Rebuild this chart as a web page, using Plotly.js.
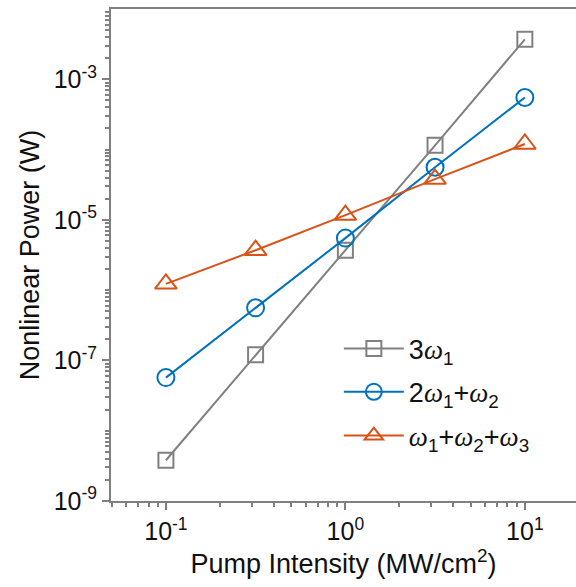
<!DOCTYPE html>
<html><head><meta charset="utf-8">
<script src="https://cdn.plot.ly/plotly-3.0.1.min.js"></script>
<style>body{margin:0;padding:0;background:#fff}#plot{width:576px;height:587px}</style>
</head><body><div id="plot"></div>
<script>
const intensity = [0.1, 0.316, 1, 3.16, 10];
const p3w1 = [3.8e-9, 1.2e-7, 3.7e-6, 1.15e-4, 3.7e-3];
const p2w1w2 = [5.7e-8, 5.6e-7, 5.5e-6, 5.6e-5, 5.5e-4];
const pw1w2w3 = [1.23e-6, 3.7e-6, 1.17e-5, 3.8e-5, 1.2e-4];
const W = '<span style="font-family:\'Liberation Serif\',\'Times New Roman\',serif"><i>ω</i></span>';
const names = ['3' + W + '<sub>1</sub>', '2' + W + '<sub>1</sub>+' + W + '<sub>2</sub>', W + '<sub>1</sub>+' + W + '<sub>2</sub>+' + W + '<sub>3</sub>'];
const xTickVals = [0.1, 1, 10];
const xTickText = ['10<sup>-1</sup>', '10<sup>0</sup>', '10<sup>1</sup>'];
const yTickVals = [1e-9, 1e-7, 1e-5, 1e-3];
const yTickText = ['10<sup>-9</sup>', '10<sup>-7</sup>', '10<sup>-5</sup>', '10<sup>-3</sup>'];

const colors = ['#808080', '#0072BD', '#D95319'];
const symbols = ['square-open', 'circle-open', 'triangle-up-open'];
const sizes = [15, 17, 19];
const series = [p3w1, p2w1w2, pw1w2w3];
const legs = ['legend', 'legend2', 'legend3'];

function minorVals(e0, e1) {
  const v = [];
  for (let e = e0; e <= e1; e++) for (let d = 1; d <= 9; d++) v.push(d * Math.pow(10, e));
  return v;
}

const traces = series.map((s, i) => ({
  x: intensity, y: s, type: 'scatter', mode: 'lines+markers', name: names[i],
  legend: legs[i],
  line: {color: colors[i], width: 2},
  marker: {symbol: symbols[i], size: sizes[i], color: colors[i], line: {width: 2, color: colors[i]}}
}));

const F = 'Arial, "Liberation Sans", sans-serif';
const legBase = {bgcolor: 'rgba(0,0,0,0)', font: {family: F, size: 27, color: '#111'}, xanchor: 'left', yanchor: 'middle', x: 0.49, itemwidth: 60};
const tickFont = {family: F, size: 25, color: '#111'};
const titleFont = {family: F, size: 27, color: '#111'};
const layout = {
  width: 576, height: 587,
  margin: {l: 111, r: 0, t: 9, b: 86},
  paper_bgcolor: '#fff', plot_bgcolor: '#fff',
  showlegend: true,
  legend: Object.assign({}, legBase, {y: 0.309}),
  legend2: Object.assign({}, legBase, {y: 0.221}),
  legend3: Object.assign({}, legBase, {y: 0.132}),
  xaxis: {
    type: 'log', range: [-1.306, 1.285], tickmode: 'array', tickvals: xTickVals, ticktext: xTickText,
    showline: true, linecolor: '#808080', linewidth: 2, mirror: true,
    ticks: 'outside', ticklen: 7, tickwidth: 2, tickcolor: '#808080',
    minor: {ticks: 'outside', ticklen: 4, tickwidth: 2, tickcolor: '#808080', tickmode: 'array', tickvals: minorVals(-2, 1), showgrid: false},
    showgrid: false, zeroline: false, tickfont: tickFont,
    title: {text: 'Pump Intensity (MW/cm<sup>2</sup>)', font: titleFont, standoff: 4}
  },
  yaxis: {
    type: 'log', range: [-9, -2], tickmode: 'array', tickvals: yTickVals, ticktext: yTickText,
    showline: true, linecolor: '#808080', linewidth: 2,
    ticks: 'outside', ticklen: 7, tickwidth: 2, tickcolor: '#808080',
    minor: {ticks: 'outside', ticklen: 4, tickwidth: 2, tickcolor: '#808080', tickmode: 'array', tickvals: minorVals(-9, -3), showgrid: false},
    showgrid: false, zeroline: false, tickfont: tickFont,
    title: {text: 'Nonlinear Power (W)', font: titleFont, standoff: 6}
  }
};
Plotly.newPlot('plot', traces, layout, {displayModeBar: false, staticPlot: true});
</script></body></html>
